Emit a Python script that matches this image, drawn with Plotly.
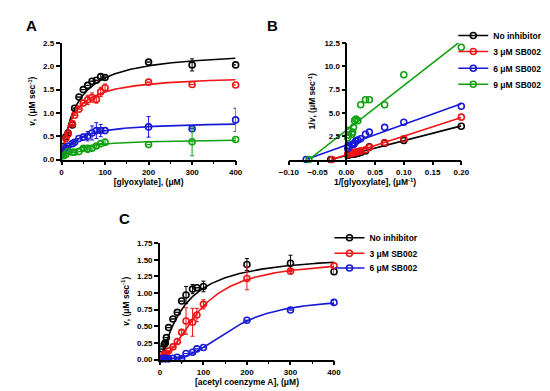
import numpy as np
import plotly.graph_objects as go

# ---------------- Panel A data : v vs [glyoxylate] ----------------
glyox = [5, 10, 15, 25, 30, 40, 50, 60, 70, 80, 90, 100, 200, 300, 400]
a_none = [0.28, 0.49, 0.57, 0.74, 1.10, 1.34, 1.50, 1.59, 1.68, 1.70, 1.78, 1.76, 2.09, 2.03, 2.03]
a_none_err = [0, 0, 0, 0, 0, 0, 0, 0, 0, 0, 0.05, 0.06, 0, 0.13, 0]
a_3 = [0.22, 0.45, 0.55, 0.77, 0.95, 1.08, 1.21, 1.28, 1.33, 1.29, 1.45, 1.54, 1.66, 1.61, 1.60]
a_3_err = [0, 0, 0, 0.05, 0, 0, 0, 0.10, 0.10, 0.08, 0.10, 0.08, 0, 0, 0]
a_6 = [0.175, 0.25, 0.29, 0.34, 0.37, 0.45, 0.48, 0.50, 0.57, 0.62, 0.62, 0.62, 0.70, 0.66, 0.85]
a_6_err = [0, 0, 0, 0, 0, 0, 0, 0.10, 0.15, 0.17, 0.13, 0, 0.22, 0, 0.25]
a_9 = [0.083, 0.11, 0.17, 0.156, 0.156, 0.17, 0.24, 0.23, 0.24, 0.29, 0.34, 0.37, 0.32, 0.38, 0.43]
a_9_err = [0, 0, 0, 0, 0, 0, 0.04, 0.08, 0.04, 0.04, 0, 0.07, 0, 0.30, 0.03]
# Michaelis-Menten fit parameters (Vmax, Km)
a_vmax = [2.36, 1.82, 0.82, 0.45]
a_km = [34.8, 25.4, 32.4, 35.0]

# ---------------- Panel B : Lineweaver-Burk linear fits ----------------
lb_slope = [15.9, 20.0, 22.2, 48.1]
lb_icpt = [0.43, 0.50, 1.55, 3.13]

# ---------------- Panel C data : v vs [acetyl CoA] ----------------
acoa = [5, 10, 12.5, 15, 20, 30, 40, 50, 60, 75, 85, 100, 200, 300, 400]
c_none = [0.157, 0.23, 0.25, 0.33, 0.48, 0.61, 0.71, 0.88, 0.97, 1.06, 1.08, 1.10, 1.43, 1.45, 1.32]
c_none_err = [0, 0, 0, 0, 0, 0, 0, 0, 0.13, 0.07, 0, 0.08, 0.09, 0.12, 0.04]
c_3 = [0.03, 0.08, 0.07, 0.09, 0.13, 0.19, 0.27, 0.41, 0.58, 0.56, 0.67, 0.83, 1.22, 1.33, 1.41]
c_3_err = [0, 0, 0, 0, 0, 0, 0.04, 0.03, 0.20, 0.21, 0.10, 0.07, 0.17, 0.03, 0.03]
c_6 = [0.01, 0.02, 0.01, 0.02, 0.01, 0.02, 0.035, 0.01, 0.09, 0.11, 0.16, 0.18, 0.59, 0.745, 0.86]
c_6_err = [0, 0, 0, 0, 0, 0, 0, 0, 0, 0, 0, 0, 0, 0, 0.03]
# Hill fit parameters (Vmax, K, n)
c_vmax = [1.60, 1.50, 0.92]
c_k = [55.0, 92.0, 165.0]
c_n = [1.2, 1.8, 2.8]

names = ["No inhibitor", "3 μM SB002", "6 μM SB002", "9 μM SB002"]
colors = ["#000000", "#f01414", "#1818d8", "#10a010"]

FONT = "Liberation Sans, Arial, sans-serif"
W, H = 550, 391
def px_x(p): return p / W
def px_y(p): return 1 - p / H

fig = go.Figure()

def mk(color):
    return dict(symbol="circle-open", size=6, color=color, line=dict(width=1.6, color=color))

# Panel A
a_sets = [(a_none, a_none_err), (a_3, a_3_err), (a_6, a_6_err), (a_9, a_9_err)]
xs = np.linspace(0, 400, 401)
for i, (ys, err) in enumerate(a_sets):
    c = colors[i]
    fig.add_trace(go.Scatter(x=xs, y=a_vmax[i] * xs / (a_km[i] + xs), mode="lines",
                             line=dict(color=c, width=1.6), xaxis="x", yaxis="y", showlegend=False))
    fig.add_trace(go.Scatter(x=glyox, y=ys, mode="markers", marker=mk(c), cliponaxis=False,
                             error_y=dict(type="data", array=err, color=c, thickness=1, width=2),
                             xaxis="x", yaxis="y", showlegend=False))

legfont = dict(family=FONT, size=8.5, color="black", weight="bold")
legends = {}
leg_idx = [0]
def new_legend(x, y):
    leg_idx[0] += 1
    key = "legend" if leg_idx[0] == 1 else f"legend{leg_idx[0]}"
    legends[key] = dict(x=px_x(x), y=px_y(y), xanchor="left", yanchor="middle",
                        bgcolor="rgba(0,0,0,0)", font=legfont, itemwidth=30, tracegroupgap=0)
    return key

# Panel B
b_leg_rows = [24, 40.5, 57.5, 74]
for i, (ys, _) in enumerate(a_sets):
    c = colors[i]
    x_int = -lb_icpt[i] / lb_slope[i]
    xl = np.array([x_int, 0.2])
    fig.add_trace(go.Scatter(x=xl, y=lb_slope[i] * xl + lb_icpt[i], mode="lines",
                             line=dict(color=c, width=1.6), xaxis="x2", yaxis="y2", showlegend=False))
    bx = [x_int] + [1.0 / g for g in glyox]
    by = [0.0] + [1.0 / v for v in ys]
    fig.add_trace(go.Scatter(x=bx, y=by, mode="markers", marker=mk(c), cliponaxis=False,
                             xaxis="x2", yaxis="y2", showlegend=False))
    fig.add_trace(go.Scatter(x=[None], y=[None], mode="lines+markers", name=names[i],
                             line=dict(color=c, width=1.6), marker=mk(c),
                             xaxis="x2", yaxis="y2", legend=new_legend(450, b_leg_rows[i])))

# Panel C
c_leg_rows = [231, 247, 262]
c_sets = [(c_none, c_none_err), (c_3, c_3_err), (c_6, c_6_err)]
for i, (ys, err) in enumerate(c_sets):
    c = colors[i]
    yfit = c_vmax[i] * xs ** c_n[i] / (c_k[i] ** c_n[i] + xs ** c_n[i])
    fig.add_trace(go.Scatter(x=xs, y=yfit, mode="lines", line=dict(color=c, width=1.6),
                             xaxis="x3", yaxis="y3", showlegend=False))
    fig.add_trace(go.Scatter(x=acoa, y=ys, mode="markers", marker=mk(c), cliponaxis=False,
                             error_y=dict(type="data", array=err, color=c, thickness=1, width=2),
                             xaxis="x3", yaxis="y3", showlegend=False))
    fig.add_trace(go.Scatter(x=[None], y=[None], mode="lines+markers", name=names[i],
                             line=dict(color=c, width=1.6), marker=mk(c),
                             xaxis="x3", yaxis="y3", legend=new_legend(322, c_leg_rows[i])))

tickfont = dict(family=FONT, size=8, color="black", weight="bold")
titlefont = dict(family=FONT, size=8.5, color="black", weight="bold")
axcommon = dict(showline=True, linecolor="black", linewidth=1.5, ticks="outside",
                ticklen=4, tickwidth=1.5, tickcolor="black", showgrid=False, zeroline=False,
                tickfont=tickfont)

ya_dom = [px_y(151), px_y(31.7)]
fig.update_layout(
    width=W, height=H, margin=dict(l=0, r=0, t=0, b=0),
    paper_bgcolor="white", plot_bgcolor="white",
    font=dict(family=FONT, color="black", weight="bold"),
    xaxis=dict(domain=[px_x(45), px_x(225)], range=[0, 400], anchor="y", dtick=100,
               minor=dict(dtick=50, ticks="outside", ticklen=2.5, tickwidth=1.2, tickcolor="black"),
               title=dict(text="[glyoxylate], (μM)", font=titlefont, standoff=0), **axcommon),
    yaxis=dict(domain=ya_dom, range=[0, 2.5], anchor="x", dtick=0.5, tickformat=".1f",
               title=dict(text="<i>v</i>, (μM sec<sup>-1</sup>)", font=titlefont, standoff=6), **axcommon),
    xaxis2=dict(domain=[px_x(280), px_x(458.3)], range=[-0.1, 0.2], anchor="y2",
                tickvals=[-0.10, -0.05, 0, 0.05, 0.10, 0.15, 0.20], tickformat=".2f",
                title=dict(text="1/[glyoxylate], (μM<sup>-1</sup>)", font=titlefont, standoff=0), **axcommon),
    yaxis2=dict(domain=ya_dom, range=[0, 12.5], anchor="free", position=px_x(280) + (px_x(458.3) - px_x(280)) / 3,
                tickvals=[2.5, 5, 7.5, 10, 12.5], tickformat=".1f",
                title=dict(text="1/<i>v</i>, (μM sec<sup>-1</sup>)", font=titlefont, standoff=6), **axcommon),
    xaxis3=dict(domain=[px_x(146.7), px_x(326.7)], range=[0, 400], anchor="y3", dtick=100,
                minor=dict(dtick=50, ticks="outside", ticklen=2.5, tickwidth=1.2, tickcolor="black"),
                title=dict(text="[acetyl coenzyme A], (μM)", font=titlefont, standoff=0), **axcommon),
    yaxis3=dict(domain=[px_y(355.7), px_y(236.7)], range=[0, 1.75], anchor="x3", dtick=0.25, tickformat=".2f",
                title=dict(text="<i>v</i>, (μM sec<sup>-1</sup>)", font=titlefont, standoff=6), **axcommon),
    **legends,
)

for letter, x, y in [("A", 14, 14), ("B", 263, 14), ("C", 110, 211)]:
    fig.add_annotation(text=letter, x=px_x(x), y=px_y(y), xref="paper", yref="paper",
                       showarrow=False, xanchor="center", yanchor="middle",
                       font=dict(family=FONT, size=15, color="black", weight="bold"))

fig.write_html("out.html")
